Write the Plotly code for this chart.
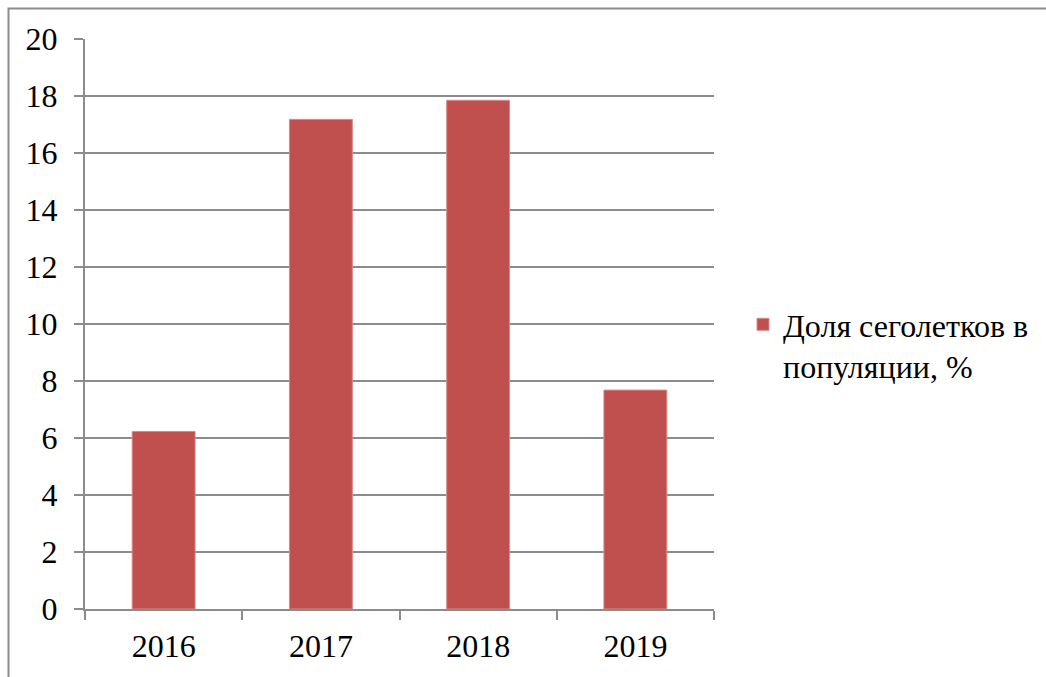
import plotly.graph_objects as go

years = ["2016", "2017", "2018", "2019"]
share = [6.23, 17.18, 17.85, 7.68]
series_name = "Доля сеголетков в<br>популяции, %"
y_ticks = [0, 2, 4, 6, 8, 10, 12, 14, 16, 18, 20]

FONT = "Liberation Serif"
FS = 32
GRID = "#8c8c8c"

W, H = 1046, 677
L, R, T, B = 85, 332, 39, 68
pw, ph = W - L - R, H - T - B

def px_x(p):
    return (p - L) / pw

def px_y(p):
    return (H - B - p) / ph

fig = go.Figure()
fig.add_trace(go.Bar(
    x=years, y=share, name=series_name,
    marker=dict(color="#C0504D", line=dict(color="#D88A88", width=1)),
    width=0.4, showlegend=True,
))

fig.update_layout(
    width=W, height=H,
    margin=dict(l=L, r=R, t=T, b=B, autoexpand=False),
    paper_bgcolor="white", plot_bgcolor="white",
    font=dict(family=FONT, size=FS, color="black"),
    showlegend=True,
    legend=dict(x=px_x(743), y=px_y(297), xanchor="left", yanchor="top",
                font=dict(family=FONT, size=FS, color="black"), valign="top",
                bgcolor="rgba(0,0,0,0)", itemwidth=30, tracegroupgap=0),
    xaxis=dict(
        type="category", showgrid=False, showline=True, linecolor=GRID, linewidth=2,
        ticks="outside", tickson="boundaries", ticklen=9, tickcolor=GRID, tickwidth=2,
        tickfont=dict(family=FONT, size=FS, color="black"), ticklabelstandoff=8,
    ),
    yaxis=dict(
        range=[0, 20], tickmode="array", tickvals=y_ticks,
        showgrid=True, gridcolor=GRID, gridwidth=2,
        showline=True, linecolor=GRID, linewidth=2, zeroline=False,
        ticks="outside", ticklen=9, tickcolor=GRID, tickwidth=2,
        tickfont=dict(family=FONT, size=FS, color="black"), ticklabelstandoff=10,
    ),
    bargap=0.6,
)

fig.add_shape(type="rect", xref="paper", yref="paper",
              x0=px_x(8.5), x1=px_x(1200), y0=px_y(8.5), y1=px_y(800),
              line=dict(color="#8c8c8c", width=2), fillcolor="rgba(0,0,0,0)", layer="below")

fig.write_html("out.html")
